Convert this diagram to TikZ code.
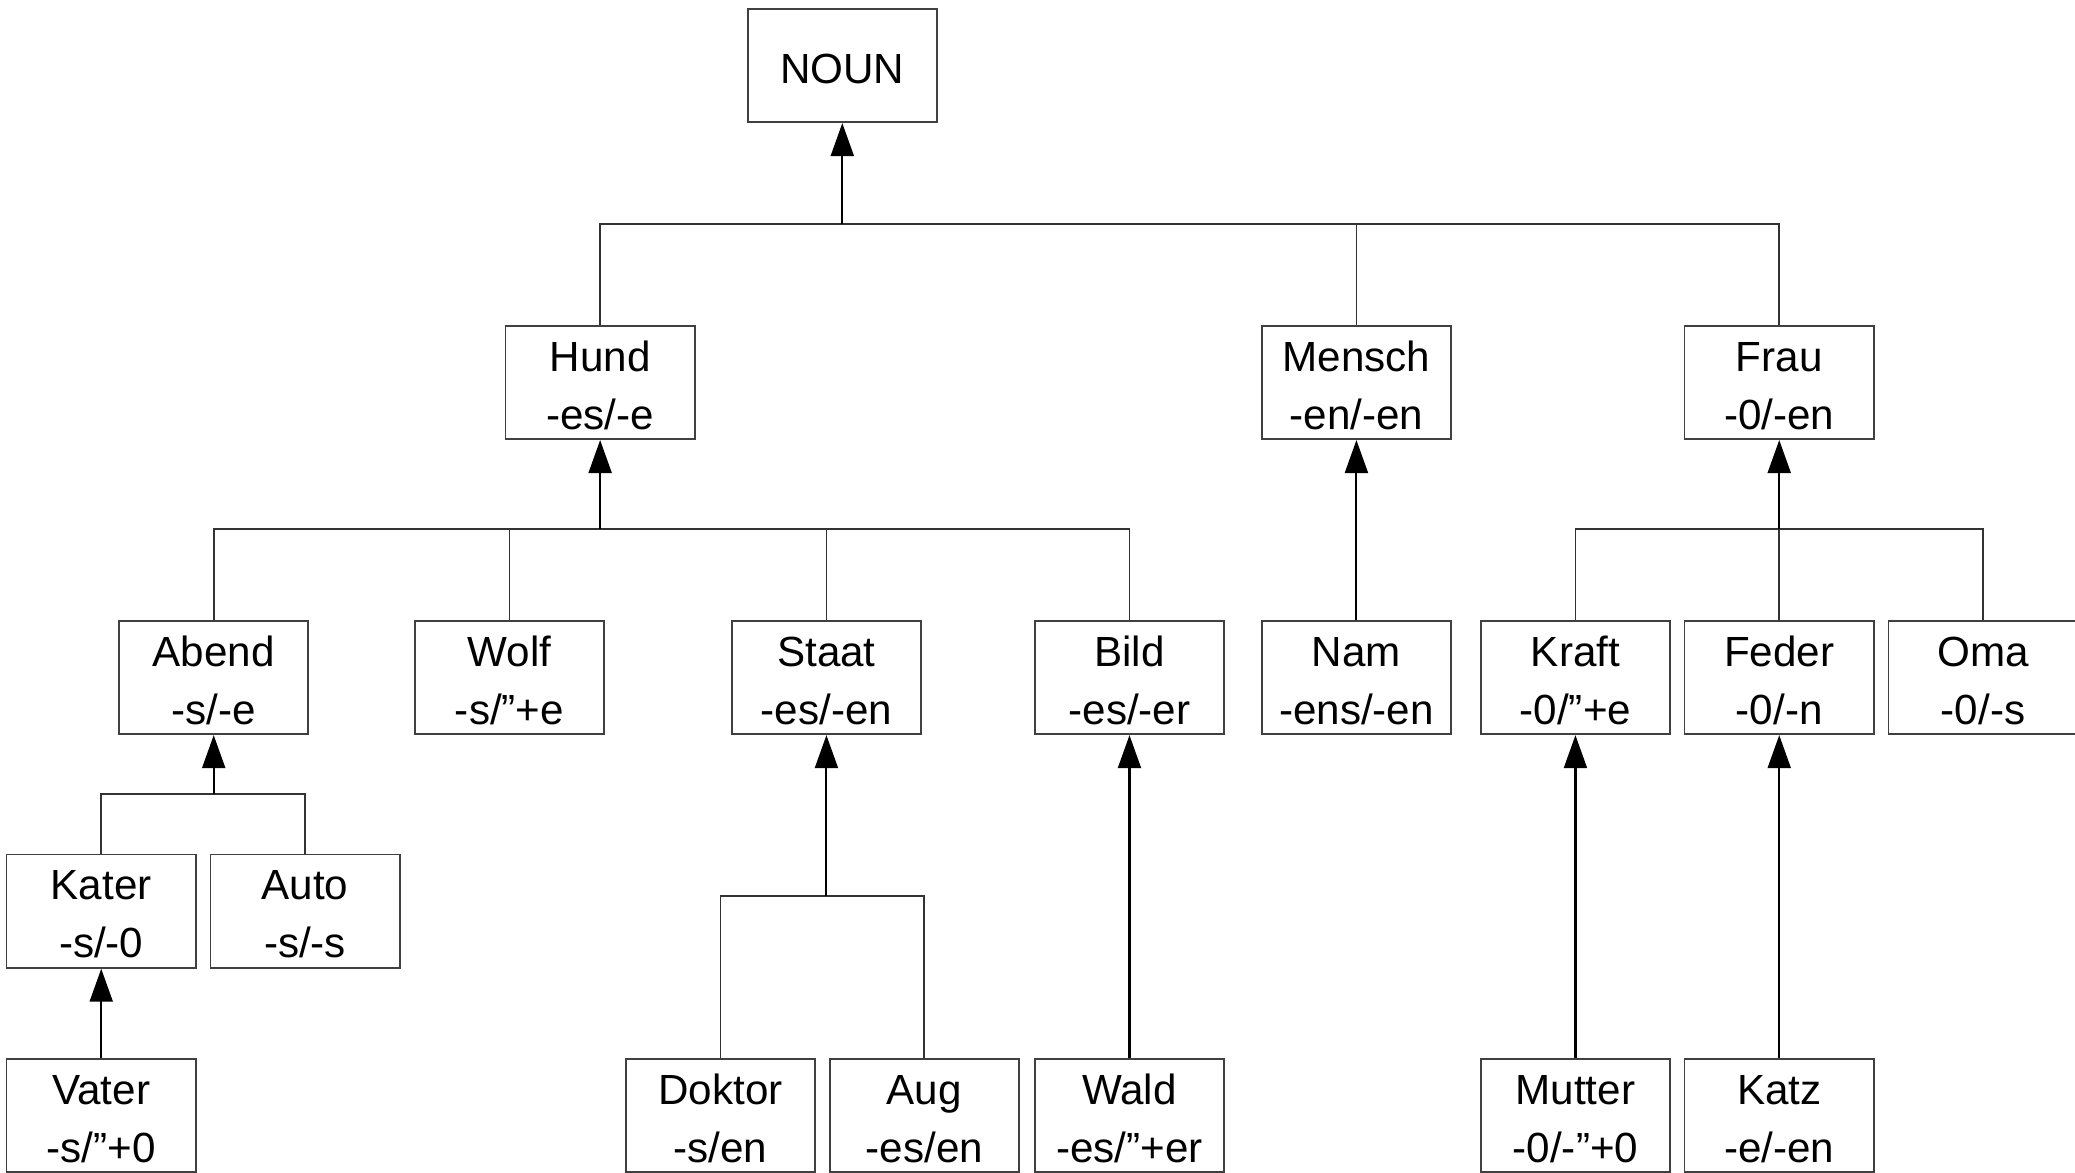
\documentclass[tikz,border=0pt]{standalone}
\usepackage{fontspec}
\setmainfont{Liberation Sans}
\usetikzlibrary{arrows.meta}
% two centred lines with fixed strut height/depth so all boxes align
\newcommand\twolines[2]{\rule{0pt}{11pt}#1\\#2\rule[-1pt]{0pt}{1pt}}
\begin{document}
\begin{tikzpicture}[x=0.013233cm,y=-0.013233cm,
  box/.style={draw=black!75,line width=0.5pt,minimum width=1.892cm,minimum height=1.134cm,
    inner sep=0pt,align=center,font=\fontsize{12}{16.5}\selectfont},
  link/.style={draw=black!80,line width=0.5pt},
  arr/.style={draw=black,line width=0.6pt,-{Triangle[length=3.3mm,width=2.3mm]}}]
\useasboundingbox (0,0) rectangle (1568,886);

% root
\node[box] (noun) at (636.5,49.5) {\rule{0pt}{10.1pt}NOUN};

% second level
\node[box] (hund)   at (453.5,289)  {\twolines{Hund}{-es/-e}};
\node[box] (mensch) at (1025,289)   {\twolines{Mensch}{-en/-en}};
\node[box] (frau)   at (1344.5,289) {\twolines{Frau}{-0/-en}};

% third level
\node[box] (abend) at (161.5,512)  {\twolines{Abend}{-s/-e}};
\node[box] (wolf)  at (385,512)    {\twolines{Wolf}{-s/”+e}};
\node[box] (staat) at (624.5,512)  {\twolines{Staat}{-es/-en}};
\node[box] (bild)  at (853.5,512)  {\twolines{Bild}{-es/-er}};
\node[box] (nam)   at (1025,512)   {\twolines{Nam}{-ens/-en}};
\node[box] (kraft) at (1190.5,512) {\twolines{Kraft}{-0/”+e}};
\node[box] (feder) at (1344.5,512) {\twolines{Feder}{-0/-n}};
\node[box] (oma)   at (1498.5,512) {\twolines{Oma}{-0/-s}};

% fourth level
\node[box] (kater) at (76.5,688.5)  {\twolines{Kater}{-s/-0}};
\node[box] (auto)  at (230.5,688.5) {\twolines{Auto}{-s/-s}};

% fifth level
\node[box] (vater)  at (76.5,843)   {\twolines{Vater}{-s/”+0}};
\node[box] (doktor) at (544.5,843)  {\twolines{Doktor}{-s/en}};
\node[box] (aug)    at (698.5,843)  {\twolines{Aug}{-es/en}};
\node[box] (wald)   at (853.5,843)  {\twolines{Wald}{-es/”+er}};
\node[box] (mutter) at (1190.5,843) {\twolines{Mutter}{-0/-”+0}};
\node[box] (katz)   at (1344.5,843) {\twolines{Katz}{-e/-en}};

% branching points
\coordinate (jnoun)  at (636.5,169);
\coordinate (jhund)  at (453.5,400);
\coordinate (jfrau)  at (1344.5,400);
\coordinate (jabend) at (161.5,600);
\coordinate (jstaat) at (624.5,677);

% NOUN
\draw[link] (hund.north) |- (jnoun);
\draw[link] (mensch.north) |- (jnoun);
\draw[link] (frau.north) |- (jnoun);
\draw[arr] (jnoun) -- (noun.south);

% Hund
\draw[link] (abend.north) |- (jhund);
\draw[link] (wolf.north) |- (jhund);
\draw[link] (staat.north) |- (jhund);
\draw[link] (bild.north) |- (jhund);
\draw[arr] (jhund) -- (hund.south);

% Mensch
\draw[arr] (nam.north) -- (mensch.south);

% Frau
\draw[link] (kraft.north) |- (jfrau);
\draw[link] (feder.north) |- (jfrau);
\draw[link] (oma.north) |- (jfrau);
\draw[arr] (jfrau) -- (frau.south);

% Abend
\draw[link] (kater.north) |- (jabend);
\draw[link] (auto.north) |- (jabend);
\draw[arr] (jabend) -- (abend.south);

% Kater
\draw[arr] (vater.north) -- (kater.south);

% Staat
\draw[link] (doktor.north) |- (jstaat);
\draw[link] (aug.north) |- (jstaat);
\draw[arr] (jstaat) -- (staat.south);

% Bild, Kraft, Feder
\draw[arr] (wald.north) -- (bild.south);
\draw[arr] (mutter.north) -- (kraft.south);
\draw[arr] (katz.north) -- (feder.south);
\end{tikzpicture}
\end{document}
